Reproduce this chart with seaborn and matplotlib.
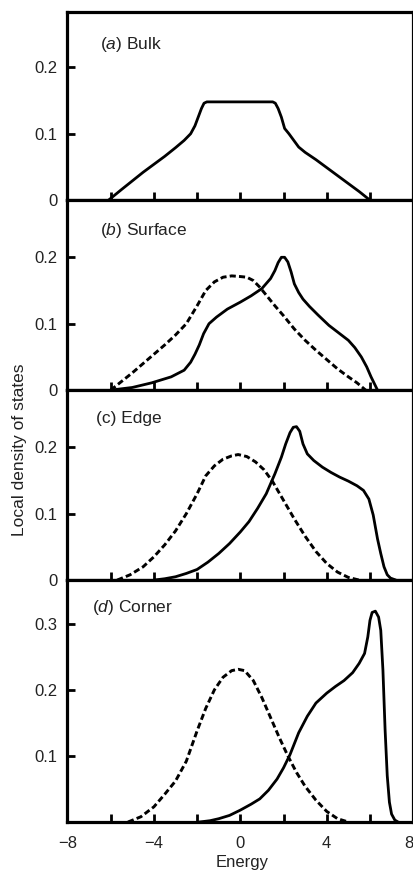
import matplotlib
matplotlib.use("Agg")
import matplotlib.pyplot as plt
import seaborn as sns

# (a) bulk
bulk_e = [-6.1, -5.5, -5.0, -4.5, -4.0, -3.5, -3.0, -2.6, -2.3, -2.1, -1.95, -1.8, -1.68, -1.55,
          1.5, 1.62, 1.75, 1.9, 2.05, 2.25, 2.7, 3.0, 3.5, 4.0, 4.5, 5.0, 5.5, 6.0]
bulk_s = [0.0, 0.016, 0.029, 0.042, 0.054, 0.066, 0.079, 0.09, 0.1, 0.112, 0.125, 0.138, 0.146, 0.148,
          0.148, 0.146, 0.138, 0.125, 0.108, 0.1, 0.08, 0.072, 0.061, 0.049, 0.037, 0.025, 0.013, 0.0]

# (b) surface
surf_e = [-6.0, -5.0, -4.1, -3.2, -2.6, -2.3, -2.1, -1.9, -1.7, -1.45, -1.1, -0.6, 0.0, 0.5, 1.0,
          1.4, 1.6, 1.75, 1.9, 2.05, 2.2, 2.35, 2.5, 2.7, 2.9, 3.2, 3.6, 4.1, 4.6, 5.0, 5.3, 5.6,
          5.85, 6.05, 6.2, 6.35]
surf_s = [0.0, 0.004, 0.011, 0.02, 0.03, 0.042, 0.054, 0.068, 0.085, 0.1, 0.11, 0.122, 0.1325, 0.142,
          0.153, 0.168, 0.18, 0.192, 0.2, 0.2, 0.193, 0.178, 0.16, 0.147, 0.137, 0.126, 0.113, 0.0975,
          0.085, 0.075, 0.064, 0.05, 0.035, 0.02, 0.01, 0.0]
surf_de = [-6.0, -5.5, -5.0, -4.5, -4.0, -3.5, -3.0, -2.5, -2.0, -1.6, -1.2, -0.8, -0.4, 0.0, 0.3,
           0.6, 0.9, 1.2, 1.6, 2.0, 2.5, 3.0, 3.5, 4.0, 4.5, 5.0, 5.4, 5.8]
surf_d = [0.0, 0.013, 0.026, 0.04, 0.054, 0.068, 0.083, 0.1, 0.127, 0.15, 0.163, 0.17, 0.172, 0.171,
          0.17, 0.165, 0.155, 0.143, 0.127, 0.112, 0.092, 0.075, 0.06, 0.046, 0.032, 0.02, 0.011, 0.0]

# (c) edge
edge_e = [-4.0, -3.5, -3.0, -2.5, -2.0, -1.5, -1.0, -0.5, 0.0, 0.4, 0.8, 1.2, 1.6, 1.9, 2.1, 2.3,
          2.45, 2.6, 2.75, 2.9, 3.1, 3.4, 3.8, 4.2, 4.6, 5.0, 5.4, 5.7, 5.95, 6.15, 6.35, 6.5, 6.65,
          6.8, 6.95, 7.2]
edge_s = [0.0, 0.002, 0.005, 0.01, 0.016, 0.027, 0.04, 0.055, 0.0725, 0.088, 0.108, 0.13, 0.16, 0.185,
          0.205, 0.222, 0.23, 0.231, 0.224, 0.205, 0.19, 0.18, 0.17, 0.162, 0.155, 0.149, 0.142, 0.135,
          0.122, 0.098, 0.062, 0.04, 0.02, 0.008, 0.003, 0.0]
edge_de = [-5.7, -5.1, -4.5, -4.0, -3.5, -3.0, -2.5, -2.0, -1.6, -1.2, -0.8, -0.4, -0.1, 0.3, 0.7,
           1.1, 1.5, 2.0, 2.5, 3.0, 3.5, 4.0, 4.5, 5.0, 5.5]
edge_d = [0.0, 0.008, 0.02, 0.035, 0.053, 0.074, 0.1, 0.13, 0.157, 0.172, 0.182, 0.187, 0.189, 0.186,
          0.178, 0.166, 0.148, 0.12, 0.092, 0.066, 0.043, 0.025, 0.012, 0.004, 0.0]

# (d) corner
corn_e = [-1.9, -1.4, -1.0, -0.5, 0.0, 0.5, 0.9, 1.3, 1.7, 2.0, 2.3, 2.7, 3.1, 3.5, 4.0, 4.4, 4.8,
          5.2, 5.5, 5.75, 5.9, 6.0, 6.1, 6.25, 6.4, 6.5, 6.6, 6.7, 6.8, 6.9, 7.0, 7.15, 7.3]
corn_s = [0.0, 0.002, 0.005, 0.01, 0.018, 0.027, 0.035, 0.048, 0.065, 0.082, 0.102, 0.135, 0.16, 0.18,
          0.195, 0.205, 0.214, 0.226, 0.24, 0.255, 0.28, 0.305, 0.317, 0.319, 0.31, 0.29, 0.23, 0.14,
          0.07, 0.03, 0.012, 0.003, 0.0]
corn_de = [-5.2, -4.6, -4.0, -3.5, -3.0, -2.5, -2.0, -1.6, -1.2, -0.8, -0.4, -0.1, 0.2, 0.6, 1.0,
           1.4, 1.8, 2.2, 2.6, 3.0, 3.5, 4.0, 4.5, 5.0]
corn_d = [0.0, 0.008, 0.023, 0.042, 0.062, 0.092, 0.138, 0.172, 0.2, 0.219, 0.229, 0.231, 0.229, 0.214,
          0.188, 0.158, 0.128, 0.1, 0.075, 0.054, 0.033, 0.016, 0.005, 0.0]

x_labels = ['\u22128', '\u22124', '0', '4', '8']

panels = [
    (r"($\mathit{a}$) Bulk", [(bulk_e, bulk_s)], [], 0.283, [0, 0.1, 0.2], 0.094, 0.83),
    (r"($\mathit{b}$) Surface", [(surf_e, surf_s)], [(surf_de, surf_d)], 0.286, [0, 0.1, 0.2], 0.094, 0.84),
    ("(c) Edge", [(edge_e, edge_s)], [(edge_de, edge_d)], 0.286, [0, 0.1, 0.2], 0.082, 0.853),
    (r"($\mathit{d}$) Corner", [(corn_e, corn_s)], [(corn_de, corn_d)], 0.366, [0.1, 0.2, 0.3], 0.071, 0.888),
]

sns.set_style("ticks")
plt.rcParams['font.family'] = ['Liberation Sans', 'DejaVu Sans']
plt.rcParams['mathtext.fontset'] = 'custom'
plt.rcParams['mathtext.it'] = 'Liberation Sans:italic'
plt.rcParams['mathtext.rm'] = 'Liberation Sans'

fig, axes = plt.subplots(4, 1, figsize=(4.14, 8.73), dpi=100, sharex=True,
                         gridspec_kw={'height_ratios': [188, 190, 190, 242], 'hspace': 0})
fig.subplots_adjust(left=0.163, right=0.998, top=0.986, bottom=0.0584)

for ax, (title, solids, dashes, ymax, yt, tx, ty) in zip(axes, panels):
    for e, v in solids:
        sns.lineplot(x=e, y=v, ax=ax, color='black', lw=2.0, sort=False)
    for e, v in dashes:
        sns.lineplot(x=e, y=v, ax=ax, color='black', lw=2.1, sort=False, linestyle=(0, (2.1, 1.1)))
    ax.set_xlim(-8, 8)
    ax.set_ylim(0, ymax)
    ax.set_yticks(yt)
    ax.set_yticklabels(['0' if t == 0 else f"{t:.1f}" for t in yt])
    ax.set_xticks([-8, -4, 0, 4, 8])
    ax.set_xticks([-6, -2, 2, 6], minor=True)
    for s in ax.spines.values():
        s.set_linewidth(2.3)
        s.set_color('black')
    ax.tick_params(axis='both', which='both', direction='in', length=6, width=2, color='black',
                   labelsize=12, labelcolor='#222222')
    ax.tick_params(axis='y', pad=7)
    ax.tick_params(axis='x', pad=10)
    ax.text(tx, ty, title, transform=ax.transAxes, fontsize=12.5, color='#222222', va='center')

axes[-1].set_xticklabels(x_labels)
axes[-1].get_xticklabels()[-1].set_horizontalalignment('right')
fig.text(242 / 414, 1 - 863 / 873, 'Energy', ha='center', va='center', fontsize=12, color='#222222')
fig.text(20 / 414, 1 - 450 / 873, 'Local density of states', ha='center', va='center',
         rotation=90, fontsize=12.5, color='#222222')

fig.savefig('out.png', dpi=100)
